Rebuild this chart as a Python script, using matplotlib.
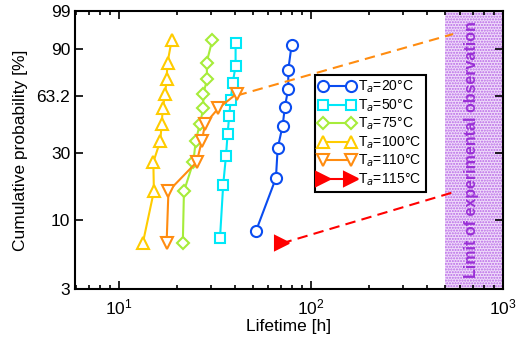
import numpy as np
import matplotlib
matplotlib.use('Agg')
import matplotlib.pyplot as plt
from matplotlib.ticker import FixedLocator, NullFormatter, LogLocator

plt.rcParams['font.family'] = ['Liberation Sans', 'DejaVu Sans']
plt.rcParams['hatch.linewidth'] = 1.0

# lifetimes [h], with cumulative probability [%] (median ranks)
F8 = [8.3, 20.2, 32.1, 44.0, 56.0, 67.9, 79.8, 91.7]
F9 = [7.4, 18.1, 28.7, 39.4, 50.0, 60.6, 71.3, 81.9, 92.6]
F10 = [6.7, 16.3, 26.0, 35.6, 45.2, 54.8, 64.4, 74.0, 83.7, 93.3]

t20 = [51.7, 65.7, 67.1, 71.2, 73.2, 76.2, 76.2, 79.3]
t50 = [33.6, 34.9, 36.1, 36.8, 37.5, 38.2, 39.1, 40.5, 40.5]
t75 = [21.5, 21.8, 24.4, 25.1, 26.4, 27.5, 27.5, 28.8, 28.6, 30.6]
t100 = [13.3, 15.2, 15.1, 16.4, 16.7, 16.9, 17.4, 17.7, 17.9, 18.8]
t110 = [17.7, 18.1, 25.4, 27.0, 28.1, 32.9, 41.0]
t115 = [70.3]

# extrapolation lines (dashed)
ext110_t = [41.0, 550]
ext110_F = [63.2, 95.2]
ext115_t = [70.3, 550]
ext115_F = [6.7, 16.0]

ytick_vals = [3, 10, 30, 63.2, 90, 99]
ytick_labels = ['3', '10', '30', '63.2', '90', '99']


def fwd(p):
    p = np.clip(np.asarray(p, dtype=float), 1e-6, 100 - 1e-9)
    return np.log(-np.log(1 - p / 100.0))


def inv(w):
    return 100.0 * (1 - np.exp(-np.exp(np.asarray(w, dtype=float))))


fig = plt.figure(figsize=(5.19, 3.39), dpi=100)
ax = fig.add_axes([0.1445, 0.1475, 0.8245, 0.8201])
ax.set_xscale('log')
ax.set_yscale('function', functions=(fwd, inv))

# limit of experimental observation
ax.axvspan(500, 1000, facecolor='#efdcfa', edgecolor='#b866e6', hatch='......', lw=0, zorder=0)
ax.text(np.sqrt(500 * 1000) * 0.97, inv((fwd(3) + fwd(99)) / 2), 'Limit of experimental observation',
        rotation=90, ha='center', va='center', color='#9a2fd6', fontsize=11.5, fontweight='bold')

ms = 8
lw = 1.5
ax.plot(t20, F8, '-o', color='#0a4cf0', mfc='white', ms=ms, mew=lw, lw=lw, label='T$_a$=20°C')
ax.plot(t50, F9, '-s', color='#00e8f8', mfc='white', ms=ms - 0.5, mew=lw, lw=lw, label='T$_a$=50°C')
ax.plot(t75, F10, '-D', color='#a6ec3a', mfc='white', ms=ms - 1.5, mew=lw, lw=lw, label='T$_a$=75°C')
ax.plot(t100, F10, '-^', color='#ffcc00', mfc='white', ms=ms + 1, mew=lw, lw=lw, label='T$_a$=100°C')
ax.plot(ext110_t, ext110_F, '--', color='#ff8c10', lw=lw, dashes=(5, 3))
ax.plot(t110, F10[:len(t110)], '-v', color='#ff8c10', mfc='white', ms=ms + 1, mew=lw, lw=lw, label='T$_a$=110°C')
ax.plot(ext115_t, ext115_F, '--', color='#ff0000', lw=lw, dashes=(5, 3))
ax.plot(t115, F10[:1], '->', color='#ff0000', mfc='#ff0000', ms=ms + 2, mew=lw, lw=lw, label='T$_a$=115°C')

ax.set_xlim(5.9, 1000)
ax.set_ylim(3, 99)
ax.set_yticks(ytick_vals)
ax.set_yticklabels(ytick_labels)
ax.yaxis.set_minor_locator(FixedLocator([]))
ax.xaxis.set_major_locator(LogLocator(base=10))
ax.xaxis.set_minor_locator(LogLocator(base=10, subs=np.arange(2, 10)))
ax.xaxis.set_minor_formatter(NullFormatter())

ax.tick_params(which='both', direction='in', top=True, right=True, labelsize=12.5, width=1.2)
ax.tick_params(which='major', length=6)
ax.tick_params(which='minor', length=3)
ax.tick_params(axis='x', pad=6)
for s in ax.spines.values():
    s.set_linewidth(1.5)

ax.set_xlabel('Lifetime [h]', fontsize=12.5, labelpad=1)
ax.set_ylabel('Cumulative probability [%]', fontsize=12.5, labelpad=6)

leg = ax.legend(loc='upper left', bbox_to_anchor=(0.561, 0.77), numpoints=2, fontsize=10,
                frameon=True, fancybox=False, edgecolor='black', handlelength=2.6,
                handletextpad=0.2, labelspacing=0.15, borderpad=0.3, borderaxespad=0)
leg.get_frame().set_linewidth(1.5)
leg.get_frame().set_alpha(1)

fig.savefig('out.png', dpi=100)
